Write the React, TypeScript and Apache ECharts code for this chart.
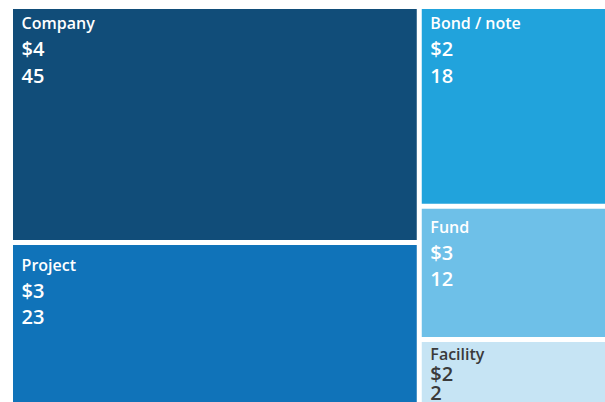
import React, { useEffect, useRef } from "react";
import * as echarts from "echarts";

// Categories and their figures
const categories = ["Company", "Project", "Bond / note", "Fund", "Facility"];
const amountsBn = [4, 3, 2, 3, 2]; // shown as "$n"
const counts = [45, 23, 18, 12, 2];
// tile size weights (estimated from the tile areas)
const weights = [45, 32, 18, 12, 6.4];

// styling per tile (kept apart from the data)
const tileColors = ["#114d79", "#1073b9", "#21a3dc", "#6ec0e8", "#c6e4f4"];
const textColors = ["#ffffff", "#ffffff", "#ffffff", "#ffffff", "#3a3a3a"];
const labelTopPad = [2.2, 7.5, 2.2, 5.6, 3];
const nameLineH = [24.5, 24.5, 24.5, 24.5, 19];
const valLineH = [26.5, 26.5, 26.5, 26.5, 19];

export default function App() {
  const ref = useRef<HTMLDivElement>(null);

  useEffect(() => {
    if (!ref.current) return;
    const chart = echarts.init(ref.current, undefined, { renderer: "svg" });
    const data = categories.map((name, i) => ({
      name,
      value: weights[i],
      amount: amountsBn[i],
      count: counts[i],
      itemStyle: { color: tileColors[i] },
      label: {
        color: textColors[i],
        padding: [labelTopPad[i], 0, 0, 8.6],
        rich: {
          name: { lineHeight: nameLineH[i], color: textColors[i] },
          val: { lineHeight: valLineH[i], color: textColors[i] },
        },
      },
    }));
    chart.setOption({
      animation: false,
      tooltip: { show: false },
      series: [
        {
          type: "treemap",
          left: 13,
          top: 9,
          width: 597,
          height: 399,
          roam: false,
          nodeClick: false,
          squareRatio: 1.33,
          breadcrumb: { show: false },
          itemStyle: { borderWidth: 0, gapWidth: 5, borderColor: "#fff" },
          label: {
            show: true,
            position: "insideTopLeft",
            distance: 0,
            padding: [2, 0, 0, 8.6],
            overflow: "none",
            lineOverflow: "none",
            fontFamily: "Open Sans",
            formatter: (p: any) =>
              `{name|${p.name}}\n{val|$${p.data.amount}}\n{val|${p.data.count}}`,
            rich: {
              name: {
                fontFamily: "Open Sans",
                fontSize: 16,
                fontWeight: 600,
                lineHeight: 24.5,
              },
              val: {
                fontFamily: "Open Sans",
                fontSize: 20,
                fontWeight: 600,
                lineHeight: 26.5,
              },
            },
          },
          upperLabel: { show: false },
          emphasis: { disabled: true },
          data,
        },
      ],
    });
    return () => chart.dispose();
  }, []);

  return (
    <div
      style={{
        position: "fixed",
        left: 0,
        top: 0,
        width: 605,
        height: 402,
        overflow: "hidden",
        background: "#fff",
      }}
    >
      <div
        ref={ref}
        style={{ position: "absolute", left: 0, top: 0, width: 620, height: 420 }}
      />
    </div>
  );
}
